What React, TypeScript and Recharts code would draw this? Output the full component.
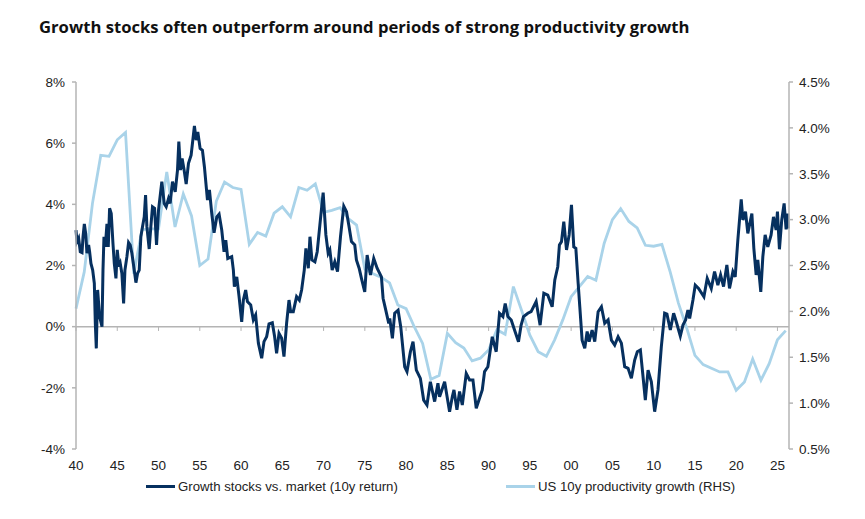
import {Line, LineChart, Legend, ReferenceLine, XAxis, YAxis} from 'recharts';

const title = 'Growth stocks often outperform around periods of strong productivity growth';
const growthName = 'Growth stocks vs. market (10y return)';
const productivityName = 'US 10y productivity growth (RHS)';

const yearTicks = [1940, 1945, 1950, 1955, 1960, 1965, 1970, 1975, 1980, 1985, 1990, 1995, 2000, 2005, 2010, 2015, 2020, 2025];
const leftTicks = [-4, -2, 0, 2, 4, 6, 8];
const rightTicks = [0.5, 1, 1.5, 2, 2.5, 3, 3.5, 4, 4.5];

const growthYears = [
    1940.00, 1940.12, 1940.32, 1940.52, 1940.73, 1940.85, 1941.01, 1941.17, 1941.33, 1941.53, 1941.65, 1941.81, 1942.02, 1942.22, 1942.34, 1942.46, 1942.62, 1942.86, 1943.15, 1943.27,
    1943.39, 1943.55, 1943.75, 1943.91, 1944.07, 1944.27, 1944.48, 1944.64, 1944.84, 1945.00, 1945.20, 1945.36, 1945.56, 1945.77, 1945.93, 1946.17, 1946.37, 1946.57, 1946.77, 1947.06,
    1947.26, 1947.46, 1947.66, 1947.86, 1948.06, 1948.27, 1948.43, 1948.59, 1948.87, 1949.07, 1949.27, 1949.52, 1949.76, 1950.00, 1950.40, 1950.69, 1950.93, 1951.21, 1951.41, 1951.69,
    1952.02, 1952.30, 1952.46, 1952.66, 1952.86, 1953.10, 1953.35, 1953.63, 1953.95, 1954.35, 1954.56, 1954.76, 1955.04, 1955.32, 1955.56, 1955.93, 1956.17, 1956.45, 1956.73, 1957.06,
    1957.34, 1957.66, 1957.94, 1958.15, 1958.39, 1958.87, 1959.07, 1959.19, 1959.48, 1959.76, 1960.08, 1960.28, 1960.56, 1960.77, 1961.17, 1961.49, 1961.77, 1962.10, 1962.50, 1962.78,
    1963.10, 1963.39, 1963.79, 1964.07, 1964.31, 1964.60, 1964.92, 1965.20, 1965.52, 1965.81, 1966.01, 1966.33, 1966.73, 1967.06, 1967.34, 1967.66, 1967.86, 1968.15, 1968.35, 1968.59,
    1968.95, 1969.23, 1969.55, 1969.95, 1970.28, 1970.56, 1970.76, 1971.04, 1971.36, 1971.69, 1972.05, 1972.45, 1972.78, 1973.06, 1973.38, 1973.78, 1973.98, 1974.31, 1974.59, 1974.99,
    1975.28, 1975.68, 1976.08, 1976.49, 1977.01, 1977.21, 1977.49, 1977.90, 1978.02, 1978.34, 1978.62, 1979.03, 1979.35, 1979.83, 1980.11, 1980.52, 1980.84, 1981.24, 1981.73, 1982.13,
    1982.53, 1982.94, 1983.46, 1983.86, 1984.06, 1984.67, 1985.27, 1985.60, 1985.80, 1986.16, 1986.48, 1986.81, 1987.29, 1987.69, 1988.10, 1988.50, 1988.90, 1989.23, 1989.51, 1989.91,
    1990.44, 1990.92, 1991.32, 1991.73, 1992.01, 1992.33, 1992.74, 1993.14, 1993.62, 1993.94, 1994.23, 1994.75, 1995.15, 1995.76, 1996.24, 1996.69, 1997.17, 1997.70, 1998.02, 1998.38,
    1998.58, 1998.83, 1999.11, 1999.44, 1999.76, 2000.04, 2000.32, 2000.57, 2000.85, 2001.05, 2001.33, 2001.65, 2001.94, 2002.18, 2002.54, 2002.86, 2003.27, 2003.67, 2004.07, 2004.48,
    2004.88, 2005.28, 2005.69, 2006.09, 2006.49, 2006.90, 2007.30, 2007.70, 2008.02, 2008.39, 2008.71, 2008.99, 2009.32, 2009.72, 2010.12, 2010.52, 2010.93, 2011.33, 2011.61, 2012.02,
    2012.42, 2012.74, 2013.23, 2013.55, 2013.87, 2014.15, 2014.36, 2014.76, 2015.04, 2015.44, 2016.09, 2016.49, 2016.98, 2017.38, 2017.78, 2018.11, 2018.47, 2018.87, 2019.19, 2019.60,
    2019.88, 2020.20, 2020.61, 2020.81, 2021.13, 2021.41, 2021.90, 2022.14, 2022.42, 2022.62, 2022.98, 2023.23, 2023.51, 2023.83, 2024.23, 2024.52, 2024.84, 2025.00, 2025.24, 2025.52,
    2025.81, 2026.05, 2026.25, 2026.29,
];

const growthValues = [
    3.16, 2.78, 2.89, 2.45, 2.42, 2.94, 3.36, 3.05, 2.40, 2.67, 2.45, 2.07, 1.85, 1.42, 0.11, -0.71, 1.20, 0.33, 0, 1.85,
    2.94, 2.61, 3.36, 2.61, 3.87, 3.70, 2.72, 2.07, 1.58, 2.51, 1.96, 2.07, 1.74, 0.76, 1.85, 2.29, 2.75, 2.67, 2.40, 1.85,
    1.44, 1.74, 1.85, 2.94, 3.27, 3.59, 4.30, 3.27, 2.54, 3.27, 3.92, 3.87, 2.67, 3.81, 4.74, 4.03, 3.92, 4.19, 4.03, 4.74,
    4.41, 5.12, 6.05, 5.12, 5.50, 5.12, 4.66, 5.34, 5.61, 6.56, 6.10, 6.37, 5.83, 5.77, 5.23, 4.14, 4.47, 3.70, 3.07, 3.59,
    3.68, 3.16, 2.45, 2.83, 2.23, 2.29, 1.85, 1.31, 1.63, 0.98, 0.16, 0.87, 1.20, 0.82, 0.71, 0.22, 0.38, -0.54, -1.03, -0.49,
    -0.33, 0.09, 0.13, -0.33, -0.87, -0.22, -0.38, -0.98, 0.11, 0.87, 0.49, 0.49, 0.98, 0.87, 1.20, 1.85, 2.56, 1.91, 2.94, 2.18,
    2.12, 2.45, 3.32, 4.38, 3.00, 2.40, 2.51, 1.85, 2.12, 1.80, 2.94, 3.94, 3.76, 3.32, 2.78, 2.67, 2.18, 1.91, 1.58, 1.14,
    2.34, 1.69, 2.23, 1.91, 1.63, 0.93, 0.60, 0.11, 0.27, -0.38, 0.44, 0.54, 0, -1.31, -1.47, -0.82, -0.49, -1.42, -1.69, -2.40,
    -2.56, -1.80, -2.45, -1.85, -2.29, -1.80, -2.78, -2.29, -2.07, -2.72, -2.12, -2.56, -1.53, -1.74, -1.74, -2.67, -2.34, -2.07, -1.47, -1.31,
    -0.33, -0.82, 0.44, 0.33, 0.76, 0.33, 0.22, -0.11, -0.49, 0.05, 0.33, 0.44, 0.49, 0.82, 0.05, 1.09, 1.03, 0.65, 1.53, 1.96,
    2.67, 2.78, 3.43, 2.51, 3.00, 3.98, 2.61, 2.56, 1.42, 0.65, -0.44, -0.71, -0.16, -0.49, -0.11, -0.49, 0.49, 0.65, 0.11, 0.22,
    -0.44, -0.60, -0.33, -0.54, -1.31, -1.36, -1.69, -1.09, -0.82, -0.76, -1.63, -2.40, -1.42, -1.80, -2.78, -2.07, -0.65, 0.44, 0.41, -0.11,
    0.44, 0.16, -0.31, 0.05, 0.22, 0.54, 0.27, 0.87, 1.36, 1.25, 0.98, 1.58, 1.25, 1.80, 1.36, 1.69, 1.31, 2.02, 1.25, 1.80,
    1.63, 2.83, 4.16, 3.49, 3.76, 3.05, 3.70, 2.56, 1.69, 2.18, 1.14, 2.29, 3.00, 2.61, 3.00, 3.59, 3.16, 3.76, 2.53, 3.49,
    4.03, 3.18, 3.70, 3.21,
];

const productivityYears = [
    1940, 1941, 1942, 1943, 1944, 1945, 1946, 1947, 1948, 1949, 1950, 1951, 1952, 1953, 1954, 1955, 1956, 1957, 1958, 1959, 1960, 1961,
    1962, 1963, 1964, 1965, 1966, 1967, 1968, 1969, 1970, 1971, 1972, 1973, 1974, 1975, 1976, 1977, 1978, 1979, 1980, 1981, 1982, 1983,
    1984, 1985, 1986, 1987, 1988, 1989, 1990, 1991, 1992, 1993, 1994, 1995, 1996, 1997, 1998, 1999, 2000, 2001, 2002, 2003, 2004, 2005,
    2006, 2007, 2008, 2009, 2010, 2011, 2012, 2013, 2014, 2015, 2016, 2017, 2018, 2019, 2020, 2021, 2022, 2023, 2024, 2025, 2026,
];

const productivityValues = [
    2.03, 2.43, 3.18, 3.70, 3.69, 3.87, 3.95, 2.41, 2.89, 2.90, 2.90, 3.52, 2.92, 3.28, 3.04, 2.50, 2.57, 3.20, 3.41, 3.35, 3.33, 2.73,
    2.86, 2.82, 3.07, 3.14, 3.03, 3.35, 3.32, 3.39, 3.08, 3.10, 3.13, 3.01, 2.94, 2.46, 2.41, 2.37, 2.31, 2.07, 2.03, 1.83, 1.65, 1.26,
    1.30, 1.76, 1.66, 1.60, 1.46, 1.49, 1.58, 1.80, 1.75, 2.27, 2.01, 1.74, 1.56, 1.51, 1.69, 1.91, 2.16, 2.27, 2.38, 2.34, 2.74, 3.00,
    3.12, 2.98, 2.91, 2.72, 2.71, 2.73, 2.43, 2.09, 1.82, 1.52, 1.42, 1.38, 1.34, 1.34, 1.14, 1.23, 1.48, 1.25, 1.43, 1.69, 1.79,
];

const growthData = growthYears.map((year, i) => ({year, growth: growthValues[i]}));
const productivityData = productivityYears.map((year, i) => ({year, productivity: productivityValues[i]}));

const axisColor = '#b4b4b4';
const textStyle = {fontFamily: '"Liberation Sans", Arial, sans-serif', fontSize: 13.5, fill: '#222'};

const renderLegend = (props: any) => (
    <div style={{display: 'flex', fontFamily: '"Liberation Sans", Arial, sans-serif', fontSize: 13.2, color: '#222'}}>
        {props.payload.map((item: any, i: number) => (
            <div key={item.value} style={{display: 'flex', alignItems: 'center', width: i === 0 ? 360 : 300}}>
                <span style={{width: 29, height: 3, marginRight: 3, background: item.color}} />
                {item.value}
            </div>
        ))}
    </div>
);

export default function App() {
    return (
        <div style={{position: 'absolute', left: 0, top: 0, width: 865, height: 519, background: '#fff'}}>
            <div style={{position: 'absolute', left: 39, top: 15, fontFamily: '"Open Sans", sans-serif', fontWeight: 700, fontSize: 16.65, color: '#111', whiteSpace: 'nowrap'}}>
                {title}
            </div>
            <LineChart width={865} height={519} margin={{top: 82, right: 0, bottom: 0, left: 0}}>
                <XAxis
                    dataKey="year"
                    type="number"
                    domain={[1940, 2026.4]}
                    ticks={yearTicks}
                    interval={0}
                    height={52}
                    axisLine={false}
                    tickLine={false}
                    tick={textStyle}
                    tickMargin={5}
                    tickFormatter={(v: number) => String(v % 100).padStart(2, '0')}
                />
                <YAxis
                    yAxisId="left"
                    width={76}
                    domain={[-4, 8]}
                    ticks={leftTicks}
                    interval={0}
                    stroke={axisColor}
                    strokeWidth={1.5}
                    tick={textStyle}
                    tickSize={4}
                    tickMargin={7}
                    tickFormatter={(v: number) => `${v}%`}
                />
                <YAxis
                    yAxisId="right"
                    orientation="right"
                    width={76}
                    domain={[0.5, 4.5]}
                    ticks={rightTicks}
                    interval={0}
                    stroke={axisColor}
                    strokeWidth={1.5}
                    tick={textStyle}
                    tickSize={4}
                    tickMargin={6}
                    tickFormatter={(v: number) => `${v.toFixed(1)}%`}
                />
                <ReferenceLine yAxisId="left" y={0} stroke={axisColor} strokeWidth={1.5} />
                {yearTicks.map((year) => (
                    <ReferenceLine
                        key={year}
                        yAxisId="left"
                        segment={[{x: year, y: 0}, {x: year, y: -0.14}]}
                        stroke={axisColor}
                        strokeWidth={1}
                    />
                ))}
                <Line
                    yAxisId="right"
                    data={productivityData}
                    dataKey="productivity"
                    name={productivityName}
                    stroke="#a9d3e9"
                    strokeWidth={2.8}
                    dot={false}
                    isAnimationActive={false}
                />
                <Line
                    yAxisId="left"
                    data={growthData}
                    dataKey="growth"
                    name={growthName}
                    stroke="#06305f"
                    strokeWidth={3}
                    dot={false}
                    isAnimationActive={false}
                />
                <Legend
                    content={renderLegend}
                    itemSorter={(item: any) => (item.dataKey === 'growth' ? 0 : 1)}
                    wrapperStyle={{position: 'absolute', left: 146, top: 479, width: 700, height: 18}}
                />
            </LineChart>
        </div>
    );
}
